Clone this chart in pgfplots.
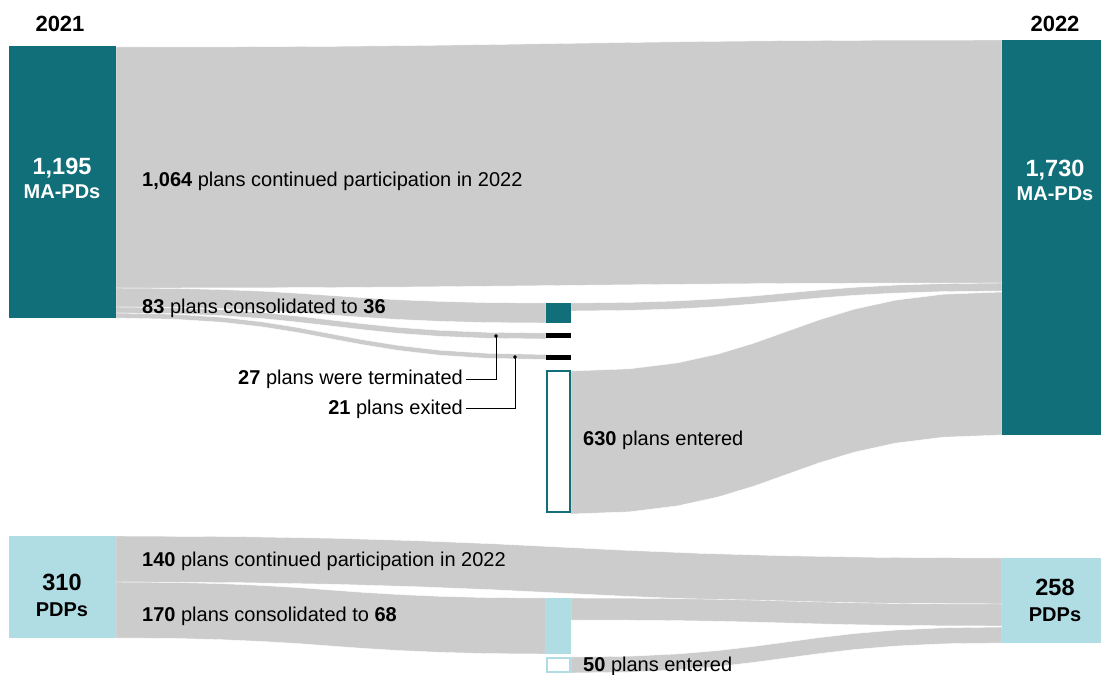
\documentclass[border=0pt]{standalone}
\usepackage{pgfplots}
\pgfplotsset{compat=1.18}
\usepackage{fontspec}
\setmainfont{Liberation Sans}
\definecolor{teal1}{HTML}{116F7A}
\definecolor{lblue}{HTML}{B0DCE4}
\definecolor{bandc}{HTML}{CCCCCC}
\newcommand\fs[1]{\fontsize{#1}{#1}\selectfont}
\begin{document}
\begin{tikzpicture}
\begin{axis}[
  width=1101pt, height=675pt, scale only axis,
  xmin=0, xmax=1101, ymin=0, ymax=675, y dir=reverse,
  axis lines=none, clip=false,
]
% ---------- bands (links) ----------
% MA-PD continued 1064
\addplot[fill=bandc, draw=white, line width=0.4pt] coordinates {
 (116,47)(236.5,46.8)(335.7,46.3)(419.0,45.5)(491.7,44.5)(559,43.5)(626.3,42.5)(699.0,41.5)(782.3,40.7)(881.5,40.2)(1002,40)
 (1002,283)(881.5,283.1)(782.3,283.5)(699.0,284.1)(626.3,284.8)(559,285.5)(491.7,286.2)(419.0,286.9)(335.7,287.5)(236.5,287.9)(116,288)} -- cycle;
% MA-PD consolidated 83 -> box
\addplot[fill=bandc, draw=white, line width=0.4pt] coordinates {
 (116,288)(174.5,288.4)(222.6,289.6)(263.1,291.2)(298.3,293.3)(331,295.5)(363.7,297.7)(398.9,299.8)(439.4,301.4)(487.5,302.6)(546,303)
 (546,323)(487.5,322.6)(439.4,321.3)(398.9,319.5)(363.7,317.4)(331,315)(298.3,312.6)(263.1,310.5)(222.6,308.7)(174.5,307.4)(116,307)} -- cycle;
% terminated 27
\addplot[fill=bandc, draw=white, line width=0.4pt] coordinates {
 (116,307)(174.5,307.7)(222.6,309.7)(263.1,312.6)(298.3,316.2)(331,320)(363.7,323.8)(398.9,327.4)(439.4,330.3)(487.5,332.3)(546,333)
 (546,339)(487.5,338.3)(439.4,336.3)(398.9,333.4)(363.7,329.8)(331,326)(298.3,322.2)(263.1,318.6)(222.6,315.7)(174.5,313.7)(116,313)} -- cycle;
% exited 21
\addplot[fill=bandc, draw=white, line width=0.4pt] coordinates {
 (116,313)(174.5,314.2)(222.6,317.3)(263.1,322.0)(298.3,327.6)(331,333.8)(363.7,339.9)(398.9,345.5)(439.4,350.2)(487.5,353.3)(546,354.5)
 (546,359.5)(487.5,358.3)(439.4,355.2)(398.9,350.5)(363.7,344.9)(331,338.8)(298.3,332.6)(263.1,327.0)(222.6,322.3)(174.5,319.2)(116,318)} -- cycle;
% consolidated out 36
\addplot[fill=bandc, draw=white, line width=0.4pt] coordinates {
 (571,303)(629.6,302.4)(677.9,300.9)(718.4,298.7)(753.7,296.0)(786.5,293)(819.3,290.0)(854.6,287.3)(895.1,285.1)(943.4,283.6)(1002,283)
 (1002,291)(943.4,291.6)(895.1,293.1)(854.6,295.3)(819.3,298.0)(786.5,301)(753.7,304.0)(718.4,306.7)(677.9,308.9)(629.6,310.4)(571,311)} -- cycle;
% entered 630
\addplot[fill=bandc, draw=white, line width=0.4pt] coordinates {
 (571,371)(629.6,368.8)(677.9,362.8)(718.4,353.9)(753.7,343.2)(786.5,331.5)(819.3,319.8)(854.6,309.1)(895.1,300.2)(943.4,294.2)(1002,292)
 (1002,435)(943.4,437.2)(895.1,443.2)(854.6,452.1)(819.3,462.8)(786.5,474.5)(753.7,486.2)(718.4,496.9)(677.9,505.8)(629.6,511.8)(571,514)} -- cycle;
% PDP continued 140
\addplot[fill=bandc, draw=white, line width=0.4pt] coordinates {
 (116,536)(236.5,536.6)(335.7,538.3)(419.0,540.8)(491.7,543.7)(559,547)(626.3,550.3)(699.0,553.3)(782.3,555.7)(881.5,557.4)(1002,558)
 (1002,604)(881.5,603.4)(782.3,601.7)(699.0,599.3)(626.3,596.3)(559,593)(491.7,589.7)(419.0,586.8)(335.7,584.3)(236.5,582.6)(116,582)} -- cycle;
% PDP consolidated 170 -> box
\addplot[fill=bandc, draw=white, line width=0.4pt] coordinates {
 (116,582)(174.5,582.4)(222.6,583.7)(263.1,585.5)(298.3,587.6)(331,590)(363.7,592.4)(398.9,594.5)(439.4,596.3)(487.5,597.6)(546,598)
 (546,654)(487.5,653.6)(439.4,652.3)(398.9,650.5)(363.7,648.4)(331,646)(298.3,643.6)(263.1,641.5)(222.6,639.7)(174.5,638.4)(116,638)} -- cycle;
% PDP consolidated out 68
\addplot[fill=bandc, draw=white, line width=0.4pt] coordinates {
 (571,598)(629.6,598.2)(677.9,598.6)(718.4,599.3)(753.7,600.1)(786.5,601)(819.3,601.9)(854.6,602.7)(895.1,603.4)(943.4,603.8)(1002,604)
 (1002,626)(943.4,625.8)(895.1,625.4)(854.6,624.7)(819.3,623.9)(786.5,623)(753.7,622.1)(718.4,621.3)(677.9,620.6)(629.6,620.2)(571,620)} -- cycle;
% PDP entered 50
\addplot[fill=bandc, draw=white, line width=0.4pt] coordinates {
 (571,657)(629.6,656.2)(677.9,653.9)(718.4,650.5)(753.7,646.4)(786.5,642)(819.3,637.6)(854.6,633.5)(895.1,630.1)(943.4,627.8)(1002,627)
 (1002,643)(943.4,643.8)(895.1,646.1)(854.6,649.5)(819.3,653.6)(786.5,658)(753.7,662.4)(718.4,666.5)(677.9,669.9)(629.6,672.2)(571,673)} -- cycle;
% ---------- nodes ----------
\addplot[fill=teal1, draw=none] coordinates {(9,46)(116,46)(116,318)(9,318)} -- cycle;
\addplot[fill=teal1, draw=none] coordinates {(1002,40)(1101,40)(1101,435)(1002,435)} -- cycle;
\addplot[fill=teal1, draw=none] coordinates {(546,303)(571,303)(571,323)(546,323)} -- cycle;
\addplot[fill=black, draw=none] coordinates {(546,333)(571,333)(571,338)(546,338)} -- cycle;
\addplot[fill=black, draw=none] coordinates {(546,354.5)(571,354.5)(571,359.5)(546,359.5)} -- cycle;
\addplot[fill=white, draw=teal1, line width=2pt] coordinates {(547,371)(570,371)(570,512)(547,512)} -- cycle;
\addplot[fill=lblue, draw=none] coordinates {(9,536)(116,536)(116,638)(9,638)} -- cycle;
\addplot[fill=lblue, draw=none] coordinates {(1002,558)(1101,558)(1101,643)(1002,643)} -- cycle;
\addplot[fill=lblue, draw=none] coordinates {(546,598)(571,598)(571,654)(546,654)} -- cycle;
\addplot[fill=white, draw=lblue, line width=2pt] coordinates {(547,658)(570,658)(570,672)(547,672)} -- cycle;
% ---------- leader lines ----------
\addplot[black, line width=0.8pt] coordinates {(466,379)(496,379)(496,336)};
\addplot[black, line width=0.8pt] coordinates {(466,408)(515,408)(515,357)};
\addplot[only marks, mark=*, mark size=1.6pt, black] coordinates {(496,336)(515,357)};
% ---------- text ----------
\node[anchor=base, font=\fs{22}\bfseries] at (60,31) {2021};
\node[anchor=base, font=\fs{22}\bfseries] at (1055,31) {2022};
\node[anchor=base, font=\fs{23.5}\bfseries, text=white] at (62,174) {1,195};
\node[anchor=base, font=\fs{20}\bfseries, text=white] at (62,198) {MA-PDs};
\node[anchor=base, font=\fs{23.5}\bfseries, text=white] at (1055,176) {1,730};
\node[anchor=base, font=\fs{20}\bfseries, text=white] at (1055,200) {MA-PDs};
\node[anchor=base, font=\fs{23.5}\bfseries] at (62,590) {310};
\node[anchor=base, font=\fs{20}\bfseries] at (62,616) {PDPs};
\node[anchor=base, font=\fs{23.5}\bfseries] at (1055,595) {258};
\node[anchor=base, font=\fs{20}\bfseries] at (1055,621) {PDPs};
\node[anchor=base west, inner sep=0pt, font=\fs{20}] at (142,186) {\textbf{1,064} plans continued participation in 2022};
\node[anchor=base west, inner sep=0pt, font=\fs{20}] at (142,313) {\textbf{83} plans consolidated to \textbf{36}};
\node[anchor=base east, inner sep=0pt, font=\fs{20}] at (463,384) {\textbf{27} plans were terminated};
\node[anchor=base east, inner sep=0pt, font=\fs{20}] at (463,414) {\textbf{21} plans exited};
\node[anchor=base west, inner sep=0pt, font=\fs{20}] at (583,445) {\textbf{630} plans entered};
\node[anchor=base west, inner sep=0pt, font=\fs{20}] at (142,566) {\textbf{140} plans continued participation in 2022};
\node[anchor=base west, inner sep=0pt, font=\fs{20}] at (142,621) {\textbf{170} plans consolidated to \textbf{68}};
\node[anchor=base west, inner sep=0pt, font=\fs{20}] at (583,671) {\textbf{50} plans entered};
\end{axis}
\pgfresetboundingbox
\path (current axis.south west) rectangle (current axis.north east);
\end{tikzpicture}
\end{document}
